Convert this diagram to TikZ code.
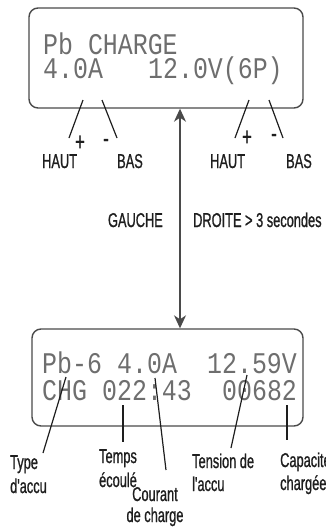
\documentclass[tikz,border=0pt]{standalone}
\usepackage{fontspec}
\usetikzlibrary{arrows.meta}
\newfontfamily\lcdfont[FakeStretch=0.83]{Liberation Mono}
\newfontfamily\labfont[FakeStretch=0.64,FakeBold=0.9]{Liberation Sans}
\definecolor{boxgray}{HTML}{4A4A4A}
\definecolor{lcdgray}{HTML}{6E6E6E}
\definecolor{ink}{HTML}{1E1E1E}
\begin{document}
\begin{tikzpicture}[x=1pt,y=-1pt,
  lcdbox/.style={draw=boxgray, line width=1.4pt, rounded corners=9pt, inner sep=0pt},
  lcd/.style={font=\lcdfont\fontsize{30}{30}\selectfont, text=lcdgray, anchor=base west, inner sep=0pt, text height=17pt, text depth=0pt},
  lab/.style={font=\labfont\fontsize{20}{24}\selectfont, text=ink, inner sep=0pt},
  sign/.style={font=\labfont\fontsize{26}{26}\selectfont, text=ink, inner sep=0pt},
  leader/.style={draw=ink, line width=1.2pt},
  link/.style={draw=boxgray, line width=1.5pt, {Stealth[length=13pt,width=12pt,inset=4pt]}-{Stealth[length=13pt,width=12pt,inset=4pt]}}]
\useasboundingbox (0,0) rectangle (325,528);
% boxes
\node[lcdbox, minimum width=274pt, minimum height=100pt] (top) at (166,58) {};
\node[lcdbox, minimum width=271pt, minimum height=97pt] (bot) at (167.5,377.5) {};
% LCD texts (15pt per column)
\node[lcd] (t1) at (43,54) {Pb CHARGE};
\node[lcd] (t2a) at (43,78) {4.0A};
\node[lcd] (t2b) at (148,78) {12.0V(6P)};
\node[lcd] (b1a) at (42,373) {Pb-6};
\node[lcd] (b1b) at (117,373) {4.0A};
\node[lcd] (b1c) at (207,373) {12.59V};
\node[lcd] (b2a) at (42,400) {CHG};
\node[lcd] (b2b) at (102,400) {022:43};
\node[lcd] (b2c) at (222,400) {00682};
% vertical double arrow
\coordinate (ax) at (180,0);
\draw[link] (top.south -| ax) -- (bot.north -| ax);
\node[lab, anchor=base east] (gauche) at (163,227) {GAUCHE};
\node[lab, anchor=base west] (droite) at (193,227) {DROITE > 3 secondes};
% top leaders
\coordinate (l1a) at (83,100);  \coordinate (l1b) at (69,138);
\coordinate (l2a) at (102,100); \coordinate (l2b) at (117,138);
\coordinate (r1a) at (249,100); \coordinate (r1b) at (235,138);
\coordinate (r2a) at (269,100); \coordinate (r2b) at (283,138);
\draw[leader] (l1a) -- (l1b);
\draw[leader] (l2a) -- (l2b);
\draw[leader] (r1a) -- (r1b);
\draw[leader] (r2a) -- (r2b);
\node[sign] (lp) at (80,143) {+};
\node[sign] (lm) at (106,143) {-};
\node[sign] (rp) at (247,138) {+};
\node[sign] (rm) at (274,138) {-};
\node[lab, anchor=base west] (lh) at (42,168) {HAUT};
\node[lab, anchor=base west] (lb) at (117,168) {BAS};
\node[lab, anchor=base west] (rh) at (210,168) {HAUT};
\node[lab, anchor=base west] (rb) at (286,168) {BAS};
% bottom leaders
\coordinate (ty1) at (66,377);  \coordinate (ty2) at (43,453);
\coordinate (te1) at (123,405); \coordinate (te2) at (123,442);
\coordinate (co1) at (155,378); \coordinate (co2) at (166,470);
\coordinate (tn1) at (247,375); \coordinate (tn2) at (231,448);
\coordinate (ca1) at (287,405); \coordinate (ca2) at (287,440);
\draw[leader] (ty1) -- (ty2);
\draw[leader] (te1) -- (te2);
\draw[leader] (co1) -- (co2);
\draw[leader] (tn1) -- (tn2);
\draw[leader] (ca1) -- (ca2);
\node[lab, anchor=base west] (type1) at (10,469) {Type};
\node[lab, anchor=base west] (type2) at (10,493) {d'accu};
\node[lab, anchor=base] (temps1) at (118,463) {Temps};
\node[lab, anchor=base] (temps2) at (118,487) {écoulé};
\node[lab, anchor=base] (cour1) at (155,501) {Courant};
\node[lab, anchor=base] (cour2) at (155,522) {de charge};
\node[lab, anchor=base west] (ten1) at (192,468) {Tension de};
\node[lab, anchor=base west] (ten2) at (192,491) {l'accu};
\node[lab, anchor=base west] (cap1) at (280,467) {Capacite};
\node[lab, anchor=base west] (cap2) at (280,490) {chargée};
\end{tikzpicture}
\end{document}
